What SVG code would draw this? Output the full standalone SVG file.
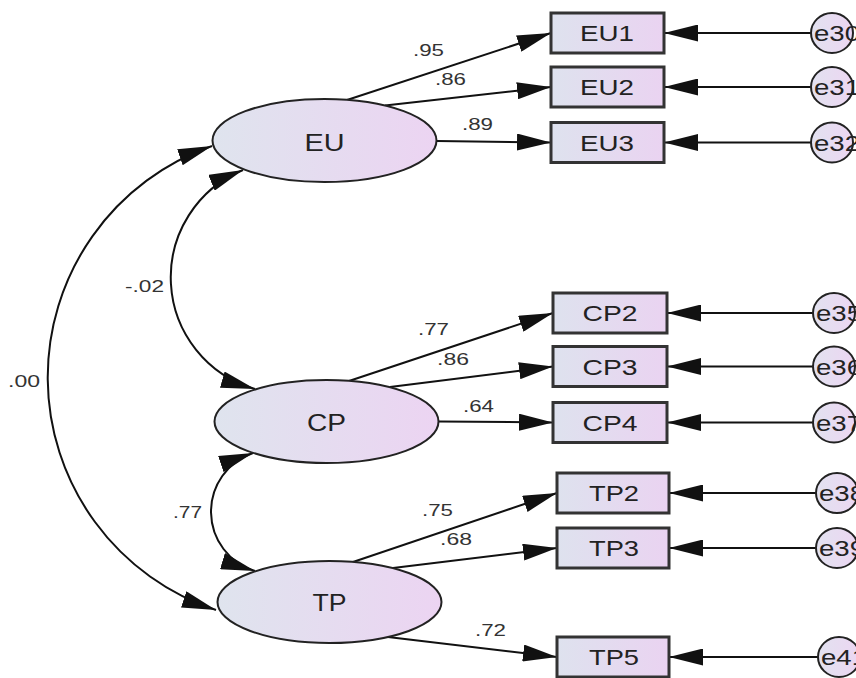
<svg xmlns="http://www.w3.org/2000/svg" width="856" height="678" viewBox="0 0 856 678">
  <defs>
    <linearGradient id="fillLatent" x1="0" y1="0" x2="1" y2="0">
      <stop offset="0" stop-color="#dfe4ee"/>
      <stop offset="1" stop-color="#ecd4f2"/>
    </linearGradient>
    <linearGradient id="fillObserved" x1="0" y1="0" x2="1" y2="0">
      <stop offset="0" stop-color="#dee2ee"/>
      <stop offset="1" stop-color="#ead3f1"/>
    </linearGradient>
    <linearGradient id="fillError" x1="0" y1="0" x2="1" y2="0">
      <stop offset="0" stop-color="#e2e2f0"/>
      <stop offset="1" stop-color="#ecd6f2"/>
    </linearGradient>
    <marker id="arrow" markerUnits="userSpaceOnUse" viewBox="0 0 34 17" markerWidth="34" markerHeight="17" refX="34" refY="8.5" orient="auto-start-reverse">
      <path d="M0,0 L34,8.5 L0,17 Z" fill="#111"/>
    </marker>
  </defs>
  <style>
    .latent { fill: url(#fillLatent); stroke: #222; stroke-width: 2; }
    .observed { fill: url(#fillObserved); stroke: #333; stroke-width: 3; }
    .error { fill: url(#fillError); stroke: #222; stroke-width: 2; }
    .edge { fill: none; stroke: #111; stroke-width: 2; marker-end: url(#arrow); }
    .cov { fill: none; stroke: #111; stroke-width: 2; marker-start: url(#arrow); marker-end: url(#arrow); }
    text { font-family: "Liberation Sans", Arial, sans-serif; fill: #222; }
    .lname { font-size: 24px; text-anchor: middle; }
    .oname { font-size: 22px; text-anchor: middle; }
    .ename { font-size: 22px; }
    .coef { font-size: 17px; fill: #333; }
  </style>

  <rect width="856" height="678" fill="#ffffff"/>

  <!-- connectors: loadings, error paths, covariances -->
  <g id="connectors">
    <path class="edge" d="M347,100 L551,33"/>
    <path class="edge" d="M385,105.5 L551,87"/>
    <path class="edge" d="M437,141 L551,142.5"/>
    <path class="edge" d="M349,381 L553,313"/>
    <path class="edge" d="M390,387 L553,366.5"/>
    <path class="edge" d="M439,421.5 L553,422.5"/>
    <path class="edge" d="M353,562 L557,493"/>
    <path class="edge" d="M393,568 L557,548"/>
    <path class="edge" d="M388,637 L557,657"/>

    <path class="edge" d="M811,33 L664,33"/>
    <path class="edge" d="M811,87 L664,87"/>
    <path class="edge" d="M811,142.5 L664,142.5"/>
    <path class="edge" d="M813,313 L667,313"/>
    <path class="edge" d="M813,366.5 L667,366.5"/>
    <path class="edge" d="M813,422.5 L667,422.5"/>
    <path class="edge" d="M816,493 L669,493"/>
    <path class="edge" d="M816,548 L669,548"/>
    <path class="edge" d="M818,657 L669,657"/>

    <path class="cov" d="M212,146 A245,245 0 0 0 216,610"/>
    <path class="cov" d="M243,170 A116,116 0 0 0 255,389"/>
    <path class="cov" d="M253,453 A62,62 0 0 0 255,571"/>

    <text class="coef" x="413" y="56" textLength="31" lengthAdjust="spacingAndGlyphs">.95</text>
    <text class="coef" x="435" y="85" textLength="31" lengthAdjust="spacingAndGlyphs">.86</text>
    <text class="coef" x="462" y="130" textLength="31" lengthAdjust="spacingAndGlyphs">.89</text>
    <text class="coef" x="418" y="335" textLength="31" lengthAdjust="spacingAndGlyphs">.77</text>
    <text class="coef" x="437" y="365" textLength="32" lengthAdjust="spacingAndGlyphs">.86</text>
    <text class="coef" x="463" y="412" textLength="31" lengthAdjust="spacingAndGlyphs">.64</text>
    <text class="coef" x="422" y="516" textLength="31" lengthAdjust="spacingAndGlyphs">.75</text>
    <text class="coef" x="440" y="545" textLength="32" lengthAdjust="spacingAndGlyphs">.68</text>
    <text class="coef" x="475" y="636" textLength="31" lengthAdjust="spacingAndGlyphs">.72</text>
    <text class="coef" x="8" y="387" textLength="32" lengthAdjust="spacingAndGlyphs">.00</text>
    <text class="coef" x="125" y="292" textLength="39" lengthAdjust="spacingAndGlyphs">-.02</text>
    <text class="coef" x="173" y="518" textLength="29" lengthAdjust="spacingAndGlyphs">.77</text>
  </g>

  <!-- latent factors -->
  <g id="EU">
    <ellipse class="latent" cx="324.5" cy="140.5" rx="112" ry="41.5"/>
    <text class="lname" x="324.5" y="150.5" textLength="40" lengthAdjust="spacingAndGlyphs">EU</text>
  </g>
  <g id="CP">
    <ellipse class="latent" cx="326.5" cy="421.5" rx="112" ry="41.5"/>
    <text class="lname" x="326.5" y="431" textLength="39" lengthAdjust="spacingAndGlyphs">CP</text>
  </g>
  <g id="TP">
    <ellipse class="latent" cx="329.5" cy="602" rx="112" ry="41"/>
    <text class="lname" x="329.5" y="610.5" textLength="34" lengthAdjust="spacingAndGlyphs">TP</text>
  </g>

  <!-- observed indicators -->
  <g id="EU1">
    <rect class="observed" x="551" y="13" width="113" height="40"/>
    <text class="oname" x="607" y="41" textLength="54" lengthAdjust="spacingAndGlyphs">EU1</text>
  </g>
  <g id="EU2">
    <rect class="observed" x="551" y="67" width="113" height="40"/>
    <text class="oname" x="607" y="95" textLength="54" lengthAdjust="spacingAndGlyphs">EU2</text>
  </g>
  <g id="EU3">
    <rect class="observed" x="551" y="122.5" width="113" height="40"/>
    <text class="oname" x="607" y="150.5" textLength="54" lengthAdjust="spacingAndGlyphs">EU3</text>
  </g>
  <g id="CP2">
    <rect class="observed" x="553" y="293" width="114" height="40"/>
    <text class="oname" x="610" y="321" textLength="55" lengthAdjust="spacingAndGlyphs">CP2</text>
  </g>
  <g id="CP3">
    <rect class="observed" x="553" y="346.5" width="114" height="40"/>
    <text class="oname" x="610" y="374.5" textLength="55" lengthAdjust="spacingAndGlyphs">CP3</text>
  </g>
  <g id="CP4">
    <rect class="observed" x="553" y="402.5" width="114" height="40"/>
    <text class="oname" x="610" y="430.5" textLength="55" lengthAdjust="spacingAndGlyphs">CP4</text>
  </g>
  <g id="TP2">
    <rect class="observed" x="557" y="473" width="112" height="40"/>
    <text class="oname" x="614" y="501" textLength="50" lengthAdjust="spacingAndGlyphs">TP2</text>
  </g>
  <g id="TP3">
    <rect class="observed" x="557" y="528" width="112" height="40"/>
    <text class="oname" x="614" y="556" textLength="50" lengthAdjust="spacingAndGlyphs">TP3</text>
  </g>
  <g id="TP5">
    <rect class="observed" x="557" y="637" width="112" height="40"/>
    <text class="oname" x="614" y="665" textLength="50" lengthAdjust="spacingAndGlyphs">TP5</text>
  </g>

  <!-- error terms -->
  <g id="e30">
    <ellipse class="error" cx="832" cy="33" rx="21" ry="20"/>
    <text class="ename" x="814" y="41" textLength="46" lengthAdjust="spacingAndGlyphs">e30</text>
  </g>
  <g id="e31">
    <ellipse class="error" cx="832" cy="87" rx="21" ry="20"/>
    <text class="ename" x="814" y="95" textLength="46" lengthAdjust="spacingAndGlyphs">e31</text>
  </g>
  <g id="e32">
    <ellipse class="error" cx="832" cy="142.5" rx="21" ry="20"/>
    <text class="ename" x="814" y="150.5" textLength="46" lengthAdjust="spacingAndGlyphs">e32</text>
  </g>
  <g id="e35">
    <ellipse class="error" cx="834" cy="313" rx="21" ry="20"/>
    <text class="ename" x="816" y="321" textLength="46" lengthAdjust="spacingAndGlyphs">e35</text>
  </g>
  <g id="e36">
    <ellipse class="error" cx="834" cy="366.5" rx="21" ry="20"/>
    <text class="ename" x="816" y="374.5" textLength="46" lengthAdjust="spacingAndGlyphs">e36</text>
  </g>
  <g id="e37">
    <ellipse class="error" cx="834" cy="422.5" rx="21" ry="20"/>
    <text class="ename" x="816" y="430.5" textLength="46" lengthAdjust="spacingAndGlyphs">e37</text>
  </g>
  <g id="e38">
    <ellipse class="error" cx="837" cy="493" rx="21" ry="20"/>
    <text class="ename" x="819" y="501" textLength="46" lengthAdjust="spacingAndGlyphs">e38</text>
  </g>
  <g id="e39">
    <ellipse class="error" cx="837" cy="548" rx="21" ry="20"/>
    <text class="ename" x="819" y="556" textLength="46" lengthAdjust="spacingAndGlyphs">e39</text>
  </g>
  <g id="e41">
    <ellipse class="error" cx="839" cy="657" rx="21" ry="20"/>
    <text class="ename" x="821" y="665" textLength="46" lengthAdjust="spacingAndGlyphs">e41</text>
  </g>
</svg>
